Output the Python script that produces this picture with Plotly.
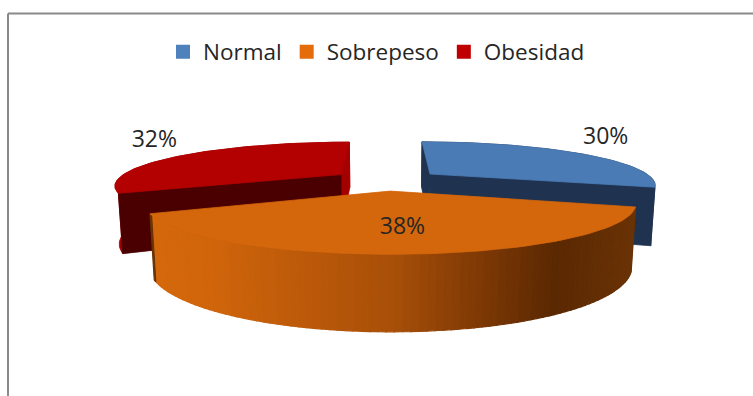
import math
import plotly.graph_objects as go

# ---- data ----
categories = ["Normal", "Sobrepeso", "Obesidad"]
values = [30, 38, 32]

# ---- style ----
top_colors = ["#4a7bb5", "#d4660b", "#b30000"]
cut_colors = ["#1f3351", "#5a2802", "#4a0000"]
rim_colors = ["#1f3351", None, "#a50000"]
legend_colors = ["#4f81bd", "#e46c0a", "#c00000"]
orange_grad = [(0.00, "#d4680c"), (0.12, "#d0650b"), (0.50, "#a84f08"),
               (0.68, "#7e3905"), (0.84, "#5a2802"), (1.00, "#6a3306")]
FONT = "Open Sans"

# ---- 3D projection parameters (layout) ----
W, H = 753, 396
ALPHA = math.radians(14.3)
DIST = 4.225
FOCAL = 933.0
THICK = 0.26
EXPLODE = 0.248
CX, CY = 386.5, 236.5
LABEL_R_OUT = 1.2
LABEL_R_IN = 0.65
sa, ca = math.sin(ALPHA), math.cos(ALPHA)


def proj(X, Y, Z):
    zc = DIST + Z * ca - Y * sa
    return CX + FOCAL * X / zc, CY - FOCAL * (Y * ca + Z * sa) / zc


def pt(off, r, th, Y):
    return proj(off[0] + r * math.sin(th), Y, off[1] + r * math.cos(th))


def hex2rgb(h):
    h = h.lstrip("#")
    return tuple(int(h[i:i + 2], 16) for i in (0, 2, 4))


def grad(t):
    for (t0, c0), (t1, c1) in zip(orange_grad[:-1], orange_grad[1:]):
        if t0 <= t <= t1:
            a, b = hex2rgb(c0), hex2rgb(c1)
            u = (t - t0) / (t1 - t0) if t1 > t0 else 0
            return "rgb(%d,%d,%d)" % tuple(round(a[k] + (b[k] - a[k]) * u) for k in range(3))
    return orange_grad[-1][1]


total = float(sum(values))
slices = []
acc = 0.0
for cat, v in zip(categories, values):
    t1 = acc / total * 2 * math.pi
    t2 = (acc + v) / total * 2 * math.pi
    mid = (t1 + t2) / 2
    off = (EXPLODE * math.sin(mid), EXPLODE * math.cos(mid))
    slices.append(dict(cat=cat, v=v, t1=t1, t2=t2, mid=mid, off=off))
    acc += v

fig = go.Figure()


def poly(points, color, lw=0.8):
    xs = [p[0] for p in points] + [points[0][0]]
    ys = [p[1] for p in points] + [points[0][1]]
    fig.add_trace(go.Scatter(x=xs, y=ys, mode="lines", fill="toself",
                             fillcolor=color, line=dict(color=color, width=lw),
                             hoverinfo="skip", showlegend=False))


def arc(s, Y, a, b, n=80):
    return [pt(s["off"], 1.0, a + (b - a) * k / n, Y) for k in range(n + 1)]


def draw_back_slice(i):
    s = slices[i]
    off = s["off"]
    # outer rim
    poly(arc(s, THICK, s["t1"], s["t2"]) + arc(s, 0, s["t2"], s["t1"]), rim_colors[i])
    c_top = proj(off[0], THICK, off[1])
    c_bot = proj(off[0], 0, off[1])
    # cut faces: the one facing the viewer is dark, the side one uses rim colour
    if i == 0:
        faces = ((s["t1"], cut_colors[i]), (s["t2"], cut_colors[i]))
    else:
        faces = ((s["t2"], rim_colors[i]), (s["t1"], cut_colors[i]))
    for th, col in faces:
        poly([c_top, pt(off, 1, th, THICK), pt(off, 1, th, 0), c_bot], col)
    # top face
    poly([c_top] + arc(s, THICK, s["t1"], s["t2"]), top_colors[i])


draw_back_slice(0)
draw_back_slice(2)

# front slice: rim strips with gradient, then top
s = slices[1]
n = 90
xs_all = [pt(s["off"], 1, s["t1"] + (s["t2"] - s["t1"]) * k / n, 0)[0] for k in range(n + 1)]
xmin, xmax = min(xs_all), max(xs_all)
for k in range(n):
    a = s["t1"] + (s["t2"] - s["t1"]) * k / n
    b = s["t1"] + (s["t2"] - s["t1"]) * (k + 1) / n
    p = [pt(s["off"], 1, a, THICK), pt(s["off"], 1, b, THICK),
         pt(s["off"], 1, b, 0), pt(s["off"], 1, a, 0)]
    xm = sum(q[0] for q in p) / 4
    poly(p, grad((xm - xmin) / (xmax - xmin)), lw=1.2)
c_top = proj(s["off"][0], THICK, s["off"][1])
poly([c_top] + arc(s, THICK, s["t1"], s["t2"]), top_colors[1])

# labels
lx, ly, lt, lp = [], [], [], []
for i, s in enumerate(slices):
    r = LABEL_R_IN if i == 1 else LABEL_R_OUT
    x, y = pt(s["off"], r, s["mid"], THICK)
    lx.append(x)
    ly.append(y)
    lt.append(f"{s['v']}%")
    lp.append("middle center" if i == 1 else "top center")
fig.add_trace(go.Scatter(x=lx, y=ly, mode="text", text=lt, textposition=lp,
                         textfont=dict(family=FONT, size=23, color="#262626"),
                         hoverinfo="skip", showlegend=False))

# legend entries
for cat, col in zip(categories, legend_colors):
    fig.add_trace(go.Scatter(x=[None], y=[None], mode="markers", name=cat,
                             marker=dict(symbol="square", size=14, color=col)))

# frame
fig.add_shape(type="line", x0=8, x1=W, y0=13.5, y1=13.5, line=dict(color="#8a8a8a", width=2))
fig.add_shape(type="line", x0=8, x1=8, y0=13.5, y1=H, line=dict(color="#8a8a8a", width=2))

fig.update_layout(
    width=W, height=H, margin=dict(l=0, r=0, t=0, b=0),
    paper_bgcolor="white", plot_bgcolor="white",
    xaxis=dict(range=[0, W], visible=False, fixedrange=True),
    yaxis=dict(range=[H, 0], visible=False, fixedrange=True),
    showlegend=True,
    legend=dict(orientation="h", x=0.5, xanchor="center", y=1 - 52 / H, yanchor="middle",
                font=dict(family=FONT, size=22.5, color="#262626"),
                bgcolor="rgba(0,0,0,0)", itemclick=False, itemdoubleclick=False),
)

fig.write_html("out.html")
